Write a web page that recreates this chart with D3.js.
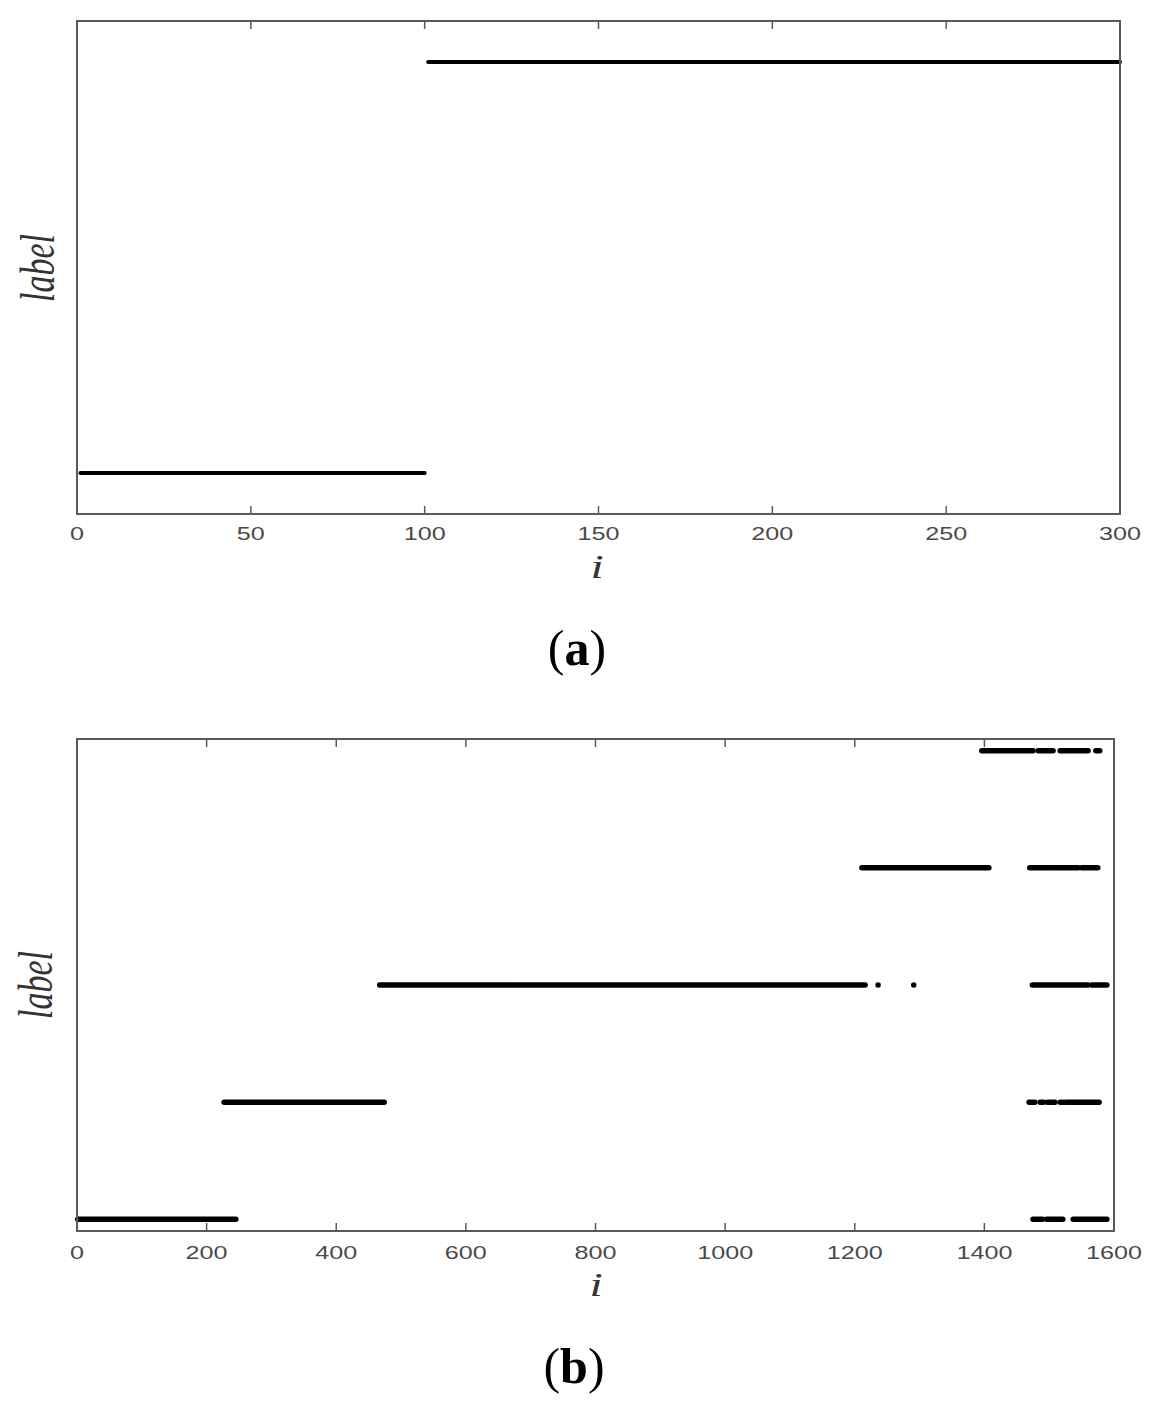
<!DOCTYPE html>
<html><head><meta charset="utf-8">
<script src="https://cdn.jsdelivr.net/npm/d3@7"></script>
<style>body{margin:0;background:#fff}</style>
</head><body>
<svg id="fig" width="1156" height="1403"></svg>
<script>
// Panel (a) data: runs of consecutive indices i assigned the same label
const ticksA = [0, 50, 100, 150, 200, 250, 300];
const runsA = [
  {label: 1, from: 1, to: 100},
  {label: 2, from: 101, to: 300}
];
// Panel (b) data
const ticksB = [0, 200, 400, 600, 800, 1000, 1200, 1400, 1600];
const runsB = [
  {label: 1, from: 1, to: 245},
  {label: 1, from: 1475, to: 1490},
  {label: 1, from: 1496, to: 1521},
  {label: 1, from: 1537, to: 1589},
  {label: 2, from: 227, to: 474},
  {label: 2, from: 1469, to: 1478},
  {label: 2, from: 1486, to: 1491},
  {label: 2, from: 1497, to: 1509},
  {label: 2, from: 1517, to: 1521},
  {label: 2, from: 1525, to: 1577},
  {label: 3, from: 467, to: 1216},
  {label: 3, from: 1236, to: 1236},
  {label: 3, from: 1291, to: 1291},
  {label: 3, from: 1474, to: 1560},
  {label: 3, from: 1566, to: 1589},
  {label: 4, from: 1211, to: 1407},
  {label: 4, from: 1470, to: 1500},
  {label: 4, from: 1503, to: 1545},
  {label: 4, from: 1550, to: 1560},
  {label: 4, from: 1563, to: 1575},
  {label: 5, from: 1396, to: 1475},
  {label: 5, from: 1483, to: 1506},
  {label: 5, from: 1517, to: 1545},
  {label: 5, from: 1548, to: 1560},
  {label: 5, from: 1572, to: 1578}
];
const captions = ["a", "b"];

const svg = d3.select("#fig");
svg.append("rect").attr("width", 1156).attr("height", 1403).attr("fill", "#fff");
const SX = 1.4; // horizontal stretch of figure text

function panel(cfg) {
  const {x0, x1, yTop, yBot, xDomain, yDomain, ticks, runs, lw, tickY, iX, iY, labelX, labelY, capX, capY, cap} = cfg;
  const x = d3.scaleLinear().domain(xDomain).range([x0, x1]);
  const y = d3.scaleLinear().domain(yDomain).range([yBot, yTop]);
  const g = svg.append("g");
  const frame = "#5a5a5a";
  // data marks
  g.selectAll("line.run").data(runs).join("line")
    .attr("class", "run")
    .attr("x1", d => x(d.from)).attr("x2", d => x(d.to))
    .attr("y1", d => y(d.label)).attr("y2", d => y(d.label))
    .attr("stroke", "#000").attr("stroke-width", lw).attr("stroke-linecap", "round");
  // bottom axis (positions only) plus inward ticks on bottom and top
  const axB = d3.axisBottom(x).tickValues(ticks).tickSize(0).tickPadding(0).tickFormat("");
  g.append("g").attr("transform", `translate(0,${yBot})`).call(axB).call(s => s.select(".domain").remove());
  g.selectAll("line.tb").data(ticks).join("line").attr("class", "tb")
    .attr("x1", d => x(d)).attr("x2", d => x(d)).attr("y1", yBot).attr("y2", yBot - 8)
    .attr("stroke", frame).attr("stroke-width", 1.5);
  g.selectAll("line.tt").data(ticks).join("line").attr("class", "tt")
    .attr("x1", d => x(d)).attr("x2", d => x(d)).attr("y1", yTop).attr("y2", yTop + 8)
    .attr("stroke", frame).attr("stroke-width", 1.5);
  // frame
  g.append("rect").attr("x", x0).attr("y", yTop).attr("width", x1 - x0).attr("height", yBot - yTop)
    .attr("fill", "none").attr("stroke", frame).attr("stroke-width", 2);
  // tick labels
  g.selectAll("text.tl").data(ticks).join("text").attr("class", "tl")
    .attr("transform", d => `translate(${x(d)},${tickY}) scale(${SX},1)`)
    .attr("text-anchor", "middle")
    .attr("font-family", "Liberation Sans, Arial, sans-serif").attr("font-size", 18)
    .attr("fill", "#4a4a4a").text(d => d);
  // x label
  g.append("text").attr("transform", `translate(${iX},${iY}) scale(${SX},1)`)
    .attr("text-anchor", "middle").attr("font-family", "Liberation Serif, Times New Roman, serif")
    .attr("font-style", "italic").attr("font-size", 34).attr("fill", "#333").text("i");
  // y label
  g.append("text").attr("transform", `translate(${labelX},${labelY}) scale(${SX},1) rotate(-90)`)
    .attr("text-anchor", "middle").attr("font-family", "Liberation Serif, Times New Roman, serif")
    .attr("font-style", "italic").attr("font-size", 34).attr("fill", "#333").text("label");
  // caption
  const c = svg.append("text").attr("x", capX).attr("y", capY).attr("text-anchor", "middle")
    .attr("font-family", "Liberation Serif, Times New Roman, serif").attr("font-size", 50).attr("fill", "#000");
  c.append("tspan").text("(");
  c.append("tspan").attr("font-weight", "bold").text(cap);
  c.append("tspan").text(")");
}

panel({x0: 77, x1: 1120, yTop: 21, yBot: 514, xDomain: [0, 300], yDomain: [0.9, 2.1],
  ticks: ticksA, runs: runsA, lw: 4, tickY: 540, iX: 597, iY: 578, labelX: 54, labelY: 268,
  capX: 577, capY: 665, cap: captions[0]});
panel({x0: 77, x1: 1114, yTop: 739, yBot: 1231, xDomain: [0, 1600], yDomain: [0.9, 5.1],
  ticks: ticksB, runs: runsB, lw: 5.5, tickY: 1259, iX: 596, iY: 1296, labelX: 52, labelY: 985,
  capX: 574, capY: 1383, cap: captions[1]});
</script>
</body></html>
